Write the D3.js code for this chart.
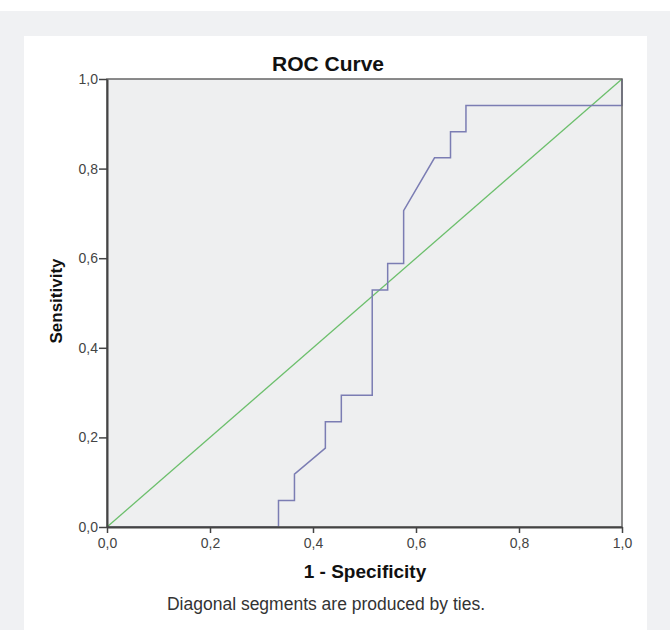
<!DOCTYPE html>
<html>
<head>
<meta charset="utf-8">
<script src="https://cdn.jsdelivr.net/npm/d3@7"></script>
<style>
  body { margin: 0; background: #fff; }
  svg { display: block; font-family: "Liberation Sans", Arial, sans-serif; }
</style>
</head>
<body>
<svg id="chart" width="670" height="630"></svg>
<script>
// ROC curve points (1 - specificity, sensitivity)
const fpr = [0, 0.333, 0.333, 0.364, 0.364, 0.424, 0.424, 0.455, 0.455, 0.515, 0.515, 0.545, 0.545, 0.576, 0.576, 0.636, 0.667, 0.667, 0.697, 0.697, 1.0, 1.0];
const tpr = [0, 0, 0.059, 0.059, 0.118, 0.176, 0.235, 0.235, 0.294, 0.294, 0.529, 0.529, 0.588, 0.588, 0.706, 0.824, 0.824, 0.882, 0.882, 0.941, 0.941, 1.0];
const refLine = [0, 1];
const ticks = [0, 0.2, 0.4, 0.6, 0.8, 1.0];

const svg = d3.select("#chart");

// background + white panel
svg.append("rect").attr("x", 0).attr("y", 11).attr("width", 670).attr("height", 619).attr("fill", "#f0f1f3");
svg.append("rect").attr("x", 24).attr("y", 36).attr("width", 623).attr("height", 594).attr("fill", "#ffffff");

const m = { left: 107, right: 622, top: 79, bottom: 527 };
const x = d3.scaleLinear().domain([0, 1]).range([m.left, m.right]);
const y = d3.scaleLinear().domain([0, 1]).range([m.bottom, m.top]);
const fmt = d => d3.format(".1f")(d).replace(".", ",");

svg.append("rect")
    .attr("x", m.left).attr("y", m.top)
    .attr("width", m.right - m.left).attr("height", m.bottom - m.top)
    .attr("fill", "#eeeff0");

// reference diagonal
svg.append("line")
    .attr("x1", x(refLine[0])).attr("y1", y(refLine[0]))
    .attr("x2", x(refLine[1])).attr("y2", y(refLine[1]))
    .attr("stroke", "#6cbf6c").attr("stroke-width", 1.3);

// ROC curve
const pts = fpr.map((v, i) => [v, tpr[i]]);
svg.append("path")
    .datum(pts)
    .attr("d", d3.line().x(d => x(d[0])).y(d => y(d[1])))
    .attr("fill", "none").attr("stroke", "#7b7db3").attr("stroke-width", 1.5);

// frame
svg.append("rect")
    .attr("x", m.left).attr("y", m.top)
    .attr("width", m.right - m.left).attr("height", m.bottom - m.top)
    .attr("fill", "none").attr("stroke", "#666").attr("stroke-width", 1.5);

const xAxis = svg.append("g")
    .attr("transform", `translate(0,${m.bottom})`)
    .call(d3.axisBottom(x).tickValues(ticks).tickFormat(fmt).tickSize(6).tickSizeOuter(0));
const yAxis = svg.append("g")
    .attr("transform", `translate(${m.left},0)`)
    .call(d3.axisLeft(y).tickValues(ticks).tickFormat(fmt).tickSize(8).tickSizeOuter(0));

[xAxis, yAxis].forEach(g => {
    g.select(".domain").attr("stroke", "#444").attr("stroke-width", 2);
    g.selectAll(".tick line").attr("stroke", "#444").attr("stroke-width", 1.5);
    g.selectAll(".tick text").attr("fill", "#444").style("font-size", "14px")
        .style("font-family", "'Liberation Sans', Arial, sans-serif");
});
xAxis.selectAll(".tick text").attr("y", 11);
yAxis.selectAll(".tick text").attr("x", -9);

// titles
svg.append("text")
    .attr("x", 328).attr("y", 71)
    .attr("text-anchor", "middle")
    .style("font-size", "21px").style("font-weight", "bold").attr("fill", "#111")
    .text("ROC Curve");

svg.append("text")
    .attr("x", 365).attr("y", 578)
    .attr("text-anchor", "middle")
    .style("font-size", "19px").style("font-weight", "bold").attr("fill", "#111")
    .text("1 - Specificity");

svg.append("text")
    .attr("transform", `translate(62,301) rotate(-90)`)
    .attr("text-anchor", "middle")
    .style("font-size", "17px").style("font-weight", "bold").attr("fill", "#111")
    .text("Sensitivity");

svg.append("text")
    .attr("x", 326).attr("y", 610)
    .attr("text-anchor", "middle")
    .style("font-size", "17.5px").attr("fill", "#333")
    .text("Diagonal segments are produced by ties.");
</script>
</body>
</html>
